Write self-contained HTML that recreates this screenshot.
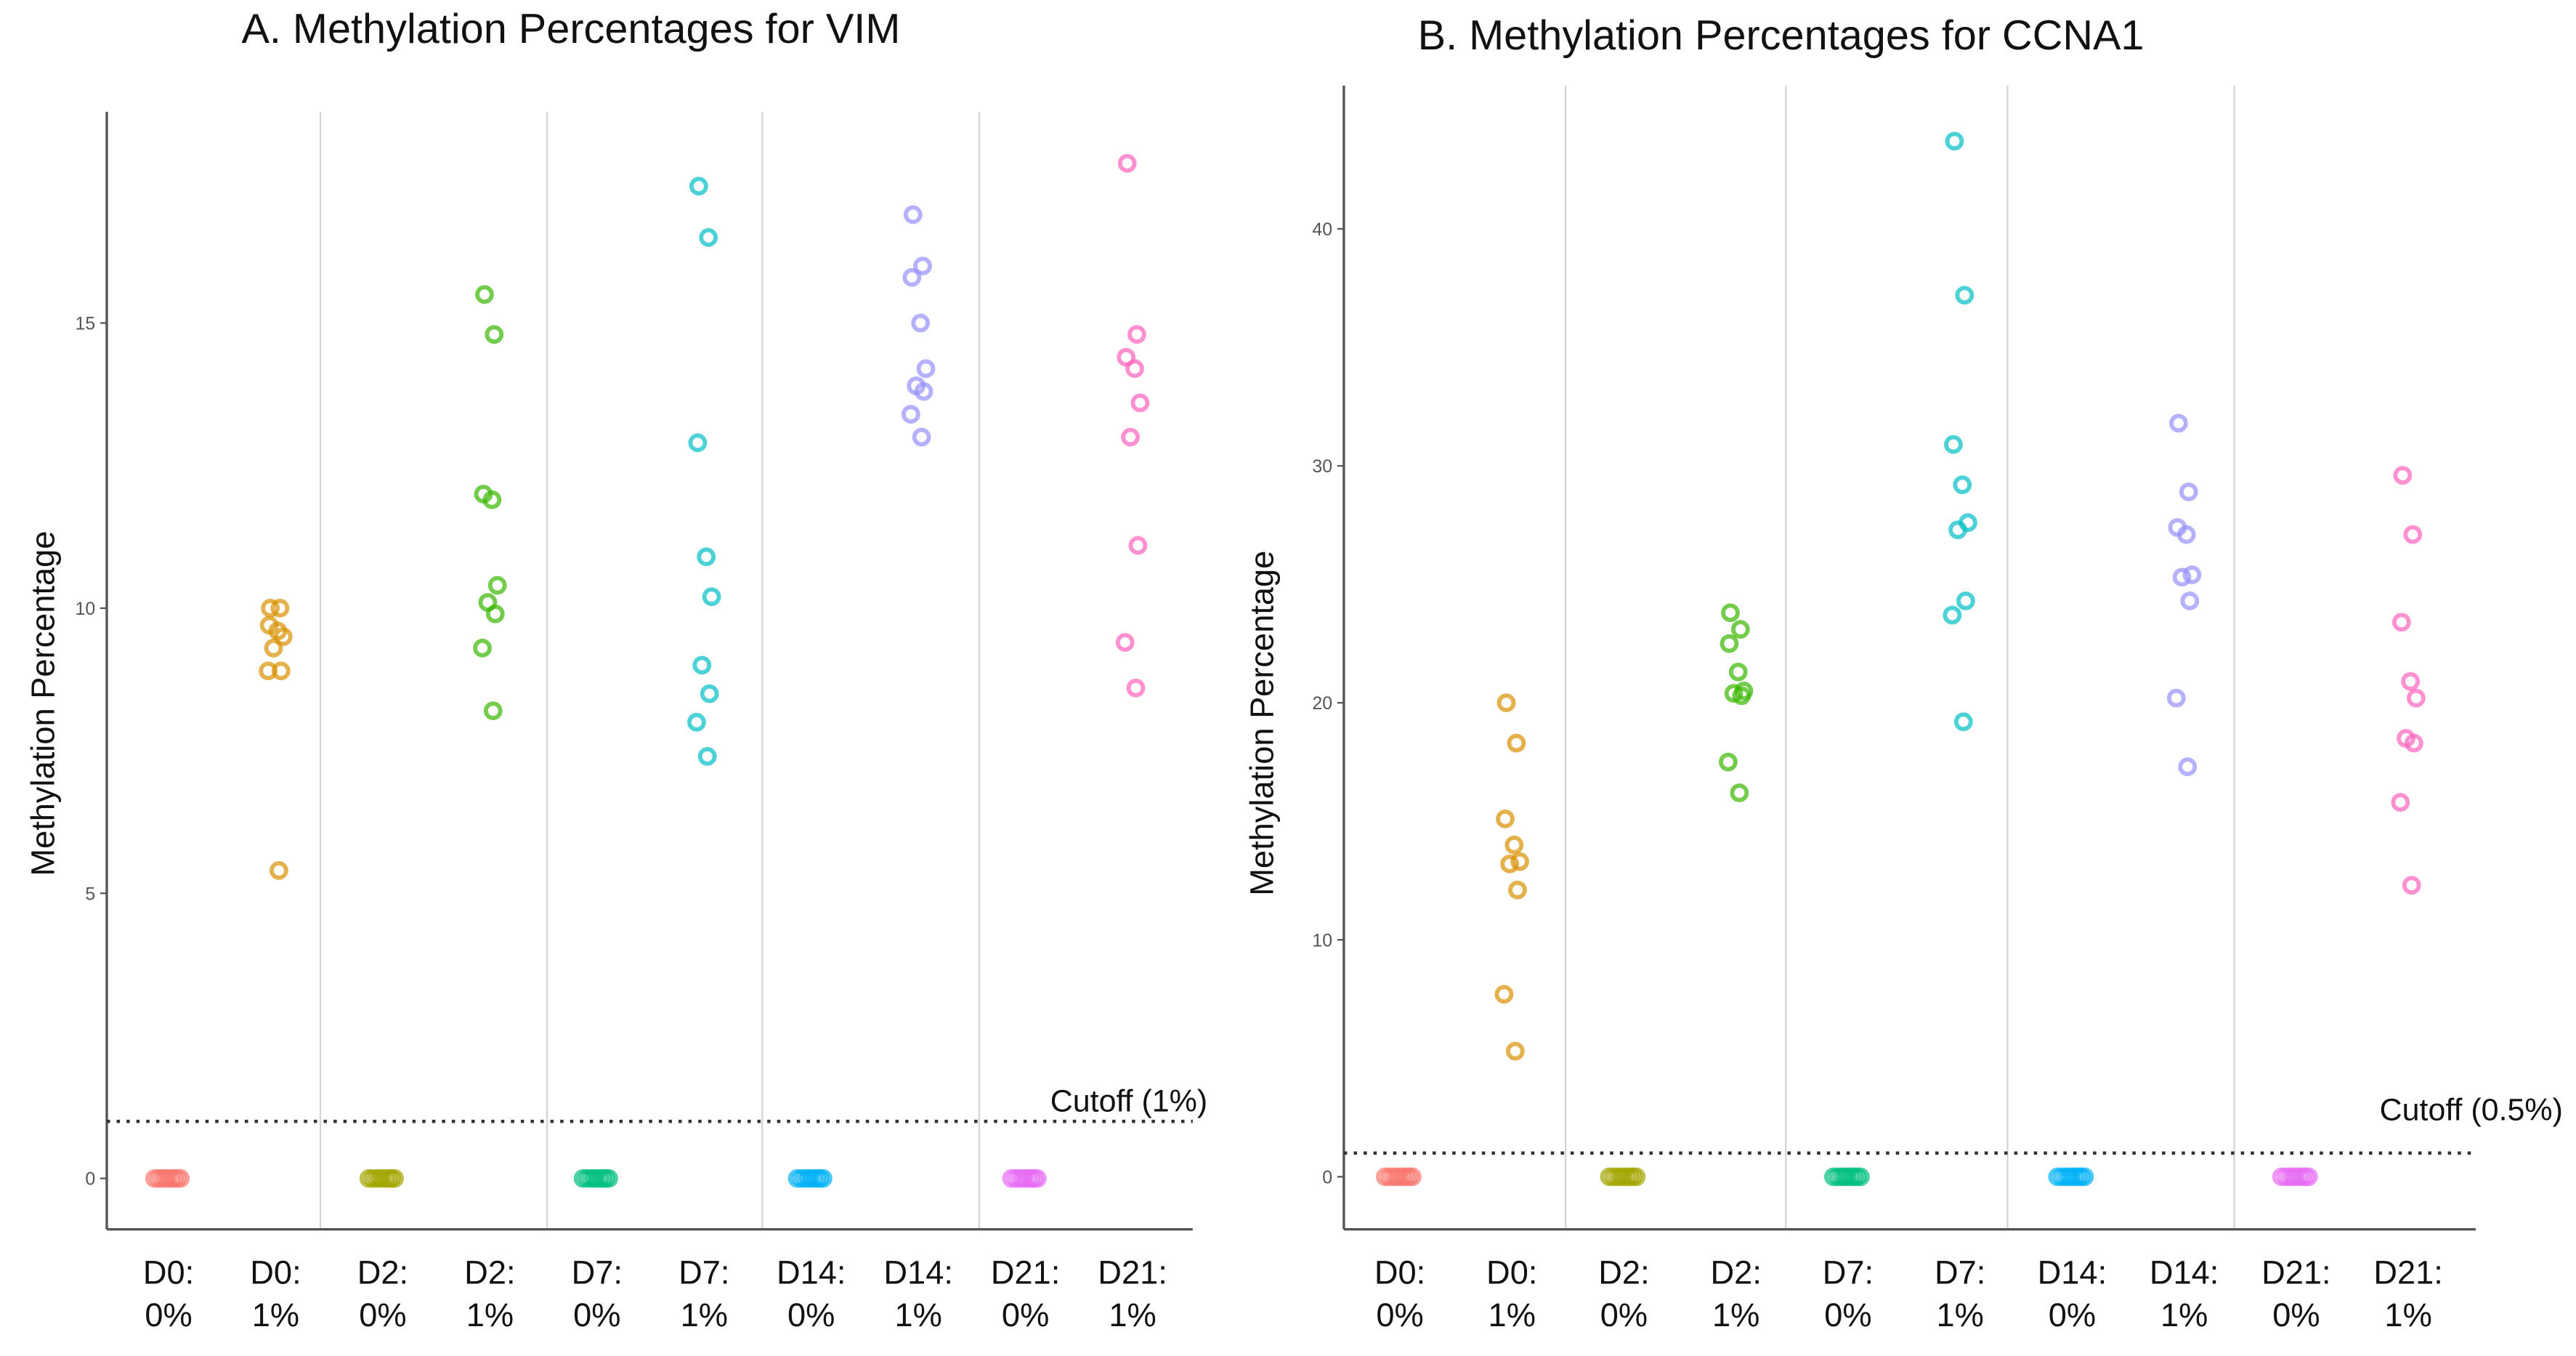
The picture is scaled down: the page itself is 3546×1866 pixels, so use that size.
<!DOCTYPE html>
<html><head><meta charset="utf-8">
<style>
html,body{margin:0;padding:0;background:#fff;}
svg{display:block;}
text{font-family:"Liberation Sans",sans-serif;}
</style></head>
<body>
<svg id="chart" width="3546" height="1866" viewBox="0 0 1568 825" xmlns="http://www.w3.org/2000/svg"></svg>
<script>
const categories = ["D0:|0%","D0:|1%","D2:|0%","D2:|1%","D7:|0%","D7:|1%","D14:|0%","D14:|1%","D21:|0%","D21:|1%"];
const colors = ["#F8766D","#D89000","#A3A500","#39B600","#00BF7D","#00BFC4","#00B0F6","#9590FF","#E76BF3","#FF62BC"];
const zeroGroup = [0,0,0,0,0,0,0,0];
const vimD0 = [10,10,9.7,9.6,9.5,9.3,8.9,8.9,5.4];
const vimD2 = [15.5,14.8,12.0,11.9,10.4,10.1,9.9,9.3,8.2];
const vimD7 = [17.4,16.5,12.9,10.9,10.2,9.0,8.5,8.0,7.4];
const vimD14 = [16.9,16.0,15.8,15.0,14.2,13.9,13.8,13.4,13.0];
const vimD21 = [17.8,14.8,14.4,14.2,13.6,13.0,11.1,9.4,8.6];
const ccnaD0 = [20,18.3,15.1,14,13.3,13.2,12.1,7.7,5.3];
const ccnaD2 = [23.8,23.1,22.5,21.3,20.5,20.4,20.3,17.5,16.2];
const ccnaD7 = [43.7,37.2,30.9,29.2,27.6,27.3,24.3,23.7,19.2];
const ccnaD14 = [31.8,28.9,27.4,27.1,25.4,25.3,24.3,20.2,17.3];
const ccnaD21 = [29.6,27.1,23.4,20.9,20.2,18.5,18.3,15.8,12.3];
const vimTicks = [0,5,10,15];
const ccnaTicks = [0,10,20,30,40];
const jitterZero = [-0.13,-0.09,-0.05,-0.02,0.02,0.05,0.08,0.11];
const jitterPos = [-0.05,0.04,-0.06,0.02,0.07,-0.02,0.05,-0.07,0.03];

const svg = document.getElementById('chart');
const NS = "http://www.w3.org/2000/svg";
function mk(tag, attrs, parent){const e=document.createElementNS(NS,tag);for(const k in attrs)e.setAttribute(k,attrs[k]);(parent||svg).appendChild(e);return e;}

function panel(cfg){
  const g = mk('g',{});
  
  
  const y = v => cfg.y0 - v*cfg.ppu;
  const step = (cfg.x1 - cfg.x0)/categories.length;
  const x = i => cfg.x0 + step*(i+0.5);
  cfg.seps.forEach(sx=>{
    const l=mk('line',{x1:sx,x2:sx,y1:cfg.top,y2:cfg.base,stroke:'#d4d4d4','stroke-width':1},g);
    
    
  });
  const ya=mk('line',{x1:cfg.ax,x2:cfg.ax,y1:cfg.top,y2:cfg.base,stroke:'#555','stroke-width':1.5},g);
  
  
  const xa=mk('line',{x1:cfg.ax,x2:cfg.xend,y1:cfg.base,y2:cfg.base,stroke:'#555','stroke-width':1.5},g);
  
  
  cfg.ticks.forEach(t=>{
    mk('line',{x1:cfg.ax-4,x2:cfg.ax,y1:y(t),y2:y(t),stroke:'#555','stroke-width':1},g);
    const tl=mk('text',{x:cfg.ax-7,y:y(t)+4,'text-anchor':'end','font-size':11,fill:'#555'},g);
    tl.textContent=t;
    
    
  });
  const cl=mk('line',{x1:cfg.ax,x2:cfg.xend,y1:y(cfg.cut),y2:y(cfg.cut),stroke:'#333','stroke-width':2,'stroke-dasharray':'2,4'},g);
  
  
  const ct=mk('text',{x:cfg.cutX,y:y(cfg.cut)-cfg.cutDy,'text-anchor':'end','font-size':19,fill:'#111'},g);
  ct.textContent=cfg.cutLabel;
  
  
  categories.forEach((c,i)=>{
    const vals = (i%2===0)? zeroGroup : cfg.series[(i-1)/2];
    const jit = (i%2===0)? jitterZero : jitterPos;
    vals.forEach((v,j)=>{
      const p=mk('circle',{cx:x(i)+jit[j%jit.length]*step,cy:y(v),r:4.4,fill:'none',stroke:colors[i],'stroke-width':2.6,'stroke-opacity':0.7},g);
      
      
    });
    const parts=c.split('|');
    const lt=mk('text',{x:x(i),y:cfg.base+33,'text-anchor':'middle','font-size':20,fill:'#111'},g);
    lt.textContent=parts[0];
    
    
    const lt2=mk('text',{x:x(i),y:cfg.base+59,'text-anchor':'middle','font-size':20,fill:'#111'},g);
    lt2.textContent=parts[1];
    
    
  });
  const ttl=mk('text',{x:cfg.titleX,y:cfg.titleY,'font-size':25.5,fill:'#111'},g);
  ttl.textContent=cfg.title;
  
  
  const yl=mk('text',{x:0,y:0,'text-anchor':'middle','font-size':20,fill:'#111',transform:`translate(${cfg.ylX},${cfg.ylY}) rotate(-90)`},g);
  yl.textContent='Methylation Percentage';
  
  
}

panel({name:'panel-a-vim',title:'A. Methylation Percentages for VIM',titleX:147,titleY:26,
  ax:65,xend:726,top:68,base:748,y0:717,ppu:34.7,x0:70,x1:722,
  seps:[195,333,464,596],ticks:vimTicks,cut:1.0,cutX:735,cutDy:6,cutLabel:'Cutoff (1%)',
  series:[vimD0,vimD2,vimD7,vimD14,vimD21],ylX:33,ylY:428});
panel({name:'panel-b-ccna1',title:'B. Methylation Percentages for CCNA1',titleX:863,titleY:30,
  ax:818,xend:1507,top:52,base:748,y0:716,ppu:14.42,x0:818,x1:1500,
  seps:[953,1087,1222,1360],ticks:ccnaTicks,cut:1.0,cutX:1560,cutDy:20,cutLabel:'Cutoff (0.5%)',
  series:[ccnaD0,ccnaD2,ccnaD7,ccnaD14,ccnaD21],ylX:775,ylY:440});
</script>
</body></html>
